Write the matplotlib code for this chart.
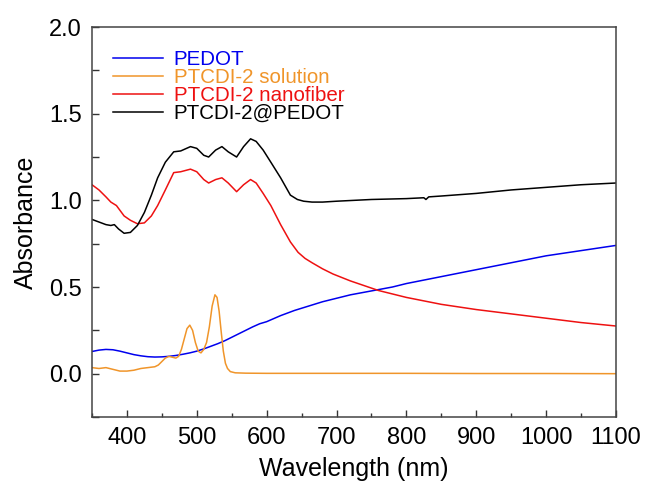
import matplotlib
matplotlib.use('Agg')
import matplotlib.pyplot as plt
from matplotlib.ticker import MultipleLocator

plt.rcParams['font.family'] = ['Liberation Sans', 'DejaVu Sans']

# PEDOT
pedot_wl = [350, 360, 370, 380, 390, 400, 410, 420, 430, 440, 450, 460, 470, 480, 490,
            500, 510, 520, 530, 540, 550, 560, 570, 580, 590, 600, 620, 640, 660, 680,
            700, 720, 740, 760, 780, 800, 850, 900, 950, 1000, 1050, 1100]
pedot_abs = [0.128, 0.136, 0.14, 0.138, 0.13, 0.12, 0.11, 0.103, 0.098, 0.096, 0.097, 0.10,
             0.105, 0.112, 0.12, 0.13, 0.143, 0.158, 0.173, 0.19, 0.21, 0.23, 0.25, 0.27,
             0.288, 0.30, 0.335, 0.365, 0.39, 0.415, 0.435, 0.455, 0.47, 0.485, 0.50, 0.52,
             0.56, 0.60, 0.64, 0.68, 0.71, 0.74]

# PTCDI-2 solution
sol_wl = [350, 360, 370, 380, 390, 400, 410, 420, 430, 440, 445, 450, 455, 460, 465, 470,
          474, 478, 482, 486, 490, 494, 498, 502, 506, 510, 514, 518, 522, 526, 529, 532,
          535, 538, 541, 544, 548, 555, 570, 600, 700, 800, 900, 1000, 1100]
sol_abs = [0.035, 0.03, 0.035, 0.025, 0.015, 0.015, 0.02, 0.03, 0.035, 0.04, 0.05, 0.07,
           0.09, 0.10, 0.095, 0.09, 0.10, 0.14, 0.20, 0.26, 0.28, 0.25, 0.18, 0.13, 0.12,
           0.14, 0.18, 0.27, 0.39, 0.455, 0.44, 0.36, 0.24, 0.13, 0.06, 0.03, 0.012, 0.005,
           0.003, 0.002, 0.002, 0.002, 0.001, 0.001, 0.0]

# PTCDI-2 nanofiber
fib_wl = [350, 360, 370, 377, 385, 396, 405, 415, 425, 435, 444, 455, 467, 477, 491, 500,
          510, 517, 527, 536, 545, 557, 567, 577, 585, 595, 606, 620, 634, 645, 655, 665,
          680, 695, 720, 760, 800, 850, 900, 950, 1000, 1050, 1100]
fib_abs = [1.09, 1.06, 1.02, 0.99, 0.97, 0.91, 0.885, 0.865, 0.87, 0.91, 0.97, 1.06, 1.16,
           1.165, 1.18, 1.165, 1.12, 1.10, 1.12, 1.13, 1.10, 1.05, 1.09, 1.12, 1.10, 1.04,
           0.97, 0.86, 0.76, 0.70, 0.665, 0.64, 0.605, 0.575, 0.535, 0.48, 0.44, 0.40, 0.37,
           0.345, 0.32, 0.295, 0.275]

# PTCDI-2@PEDOT
comp_wl = [350, 360, 370, 377, 382, 388, 396, 405, 415, 425, 435, 444, 455, 467, 477, 491,
           500, 510, 517, 527, 536, 545, 557, 567, 577, 585, 595, 606, 620, 634, 644, 653,
           665, 680, 700, 750, 800, 825, 828, 832, 850, 900, 950, 1000, 1050, 1100]
comp_abs = [0.89, 0.875, 0.86, 0.855, 0.86, 0.835, 0.81, 0.815, 0.855, 0.93, 1.03, 1.13,
            1.22, 1.28, 1.285, 1.31, 1.30, 1.26, 1.25, 1.29, 1.31, 1.28, 1.25, 1.31, 1.355,
            1.34, 1.29, 1.22, 1.13, 1.03, 1.005, 0.995, 0.99, 0.99, 0.995, 1.005, 1.01,
            1.015, 1.005, 1.02, 1.025, 1.04, 1.06, 1.075, 1.09, 1.10]

labels = ['PEDOT', 'PTCDI-2 solution', 'PTCDI-2 nanofiber', 'PTCDI-2@PEDOT']
colors = ['#0000ee', '#f0952a', '#ee1111', '#000000']

fig = plt.figure(figsize=(6.45, 4.92), dpi=100)
ax = fig.add_axes([0.1426, 0.1524, 0.8124, 0.7927])

series = [(pedot_wl, pedot_abs), (sol_wl, sol_abs), (fib_wl, fib_abs), (comp_wl, comp_abs)]
for (wl, ab), lab, c in zip(series, labels, colors):
    ax.plot(wl, ab, color=c, lw=1.1, label=lab)

ax.set_xlim(350, 1100)
ax.set_ylim(-0.25, 2.0)
ax.xaxis.set_major_locator(MultipleLocator(100))
ax.xaxis.set_minor_locator(MultipleLocator(50))
ax.yaxis.set_major_locator(MultipleLocator(0.5))
ax.yaxis.set_minor_locator(MultipleLocator(0.25))
ax.tick_params(which='both', direction='in', labelsize=17, color='#333333')
ax.tick_params(which='major', length=5, width=1.0, pad=7.5)
ax.tick_params(axis='x', which='minor', length=3, width=1.0)
ax.tick_params(axis='y', which='minor', length=5, width=1.0)
for s in ax.spines.values():
    s.set_linewidth(1.1)
    s.set_color('#444444')

ax.set_xlabel('Wavelength (nm)', fontsize=18, labelpad=5.5)
ax.set_ylabel('Absorbance', fontsize=18, labelpad=8)

leg = ax.legend(loc='upper left', frameon=False, fontsize=14.8, handlelength=2.44,
                handletextpad=0.49, labelspacing=-0.05, borderaxespad=0, borderpad=0.4,
                bbox_to_anchor=(0.025, 0.962))
for t, c in zip(leg.get_texts(), colors):
    t.set_color(c)

fig.savefig('out.png', dpi=100)
